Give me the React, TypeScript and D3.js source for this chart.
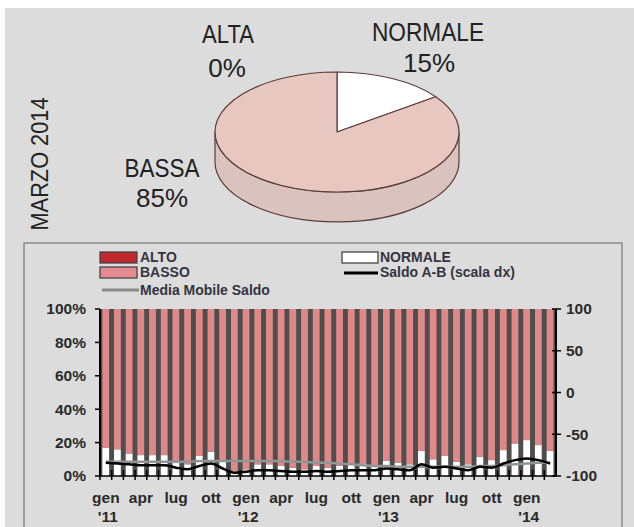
import React from "react";
import * as d3 from "d3";

const months = [
  "gen 11","feb 11","mar 11","apr 11","mag 11","giu 11","lug 11","ago 11","set 11","ott 11","nov 11","dic 11",
  "gen 12","feb 12","mar 12","apr 12","mag 12","giu 12","lug 12","ago 12","set 12","ott 12","nov 12","dic 12",
  "gen 13","feb 13","mar 13","apr 13","mag 13","giu 13","lug 13","ago 13","set 13","ott 13","nov 13","dic 13",
  "gen 14","feb 14","mar 14",
];
const normale = [
  17, 16, 13.5, 12.5, 12.5, 12.5, 9, 7, 12, 14.5, 8.5, 3,
  4, 7, 7, 6, 5, 4, 6, 5, 6, 7.5, 7.5, 6.5,
  9, 8, 7, 15, 10, 12, 8.5, 7, 11.5, 9.5, 15.5, 19.5,
  21.5, 18.5, 15,
];
const basso = [
  83, 84, 86.5, 87.5, 87.5, 87.5, 91, 93, 88, 85.5, 91.5, 97,
  96, 93, 93, 94, 95, 96, 94, 95, 94, 92.5, 92.5, 93.5,
  91, 92, 93, 85, 90, 88, 91.5, 93, 88.5, 90.5, 84.5, 80.5,
  78.5, 81.5, 85,
];
const alto = [
  0, 0, 0, 0, 0, 0, 0, 0, 0, 0, 0, 0,
  0, 0, 0, 0, 0, 0, 0, 0, 0, 0, 0, 0,
  0, 0, 0, 0, 0, 0, 0, 0, 0, 0, 0, 0,
  0, 0, 0,
];
const saldo = [
  -84, -85, -86, -87, -87, -87, -90, -92, -88, -85, -91, -96,
  -95, -93, -93, -94, -95, -95, -94, -95, -94, -93, -93, -93,
  -91, -92, -93, -86, -90, -89, -91, -93, -89, -90, -85, -81,
  -79, -81, -85,
];
const mediaMobile = [
  -83, -83, -83, -83, -83, -83, -83, -83, -82, -82, -82, -82,
  -82, -82, -82, -82, -83, -83, -84, -84, -85, -86, -87, -88,
  -88, -89, -89, -89, -89, -89, -89, -89, -88, -88, -87, -86,
  -85, -84, -84,
];
const leftTicks = [0, 20, 40, 60, 80, 100];
const rightTicks = [-100, -50, 0, 50, 100];
const xTickMonths = ["gen 11","apr 11","lug 11","ott 11","gen 12","apr 12","lug 12","ott 12","gen 13","apr 13","lug 13","ott 13","gen 14"];
const xTickText = ["gen","apr","lug","ott","gen","apr","lug","ott","gen","apr","lug","ott","gen"];
const xTickYear = ["'11","","","","'12","","","","'13","","","","'14"];

const pieLabels = ["ALTA", "NORMALE", "BASSA"];
const pieValues = [0, 15, 85];

const FONT = "'Liberation Sans', Arial, Helvetica, sans-serif";

export default function App() {
  // ---------- pie ----------
  const cx = 337, cy = 132, rx = 122, ry = 60, depth = 30;
  const arcs = d3.pie<number>().sort(null).startAngle(0).endAngle(2 * Math.PI)(pieValues);
  const pt = (a: number) => [cx + rx * Math.sin(a), cy - ry * Math.cos(a)];
  const slicePath = (a0: number, a1: number) => {
    const [x0, y0] = pt(a0);
    const [x1, y1] = pt(a1);
    const large = a1 - a0 > Math.PI ? 1 : 0;
    return `M${cx},${cy}L${x0},${y0}A${rx},${ry} 0 ${large} 1 ${x1},${y1}Z`;
  };
  const sidePath = `M${cx - rx},${cy}L${cx - rx},${cy + depth}A${rx},${ry} 0 0 0 ${cx + rx},${cy + depth}L${cx + rx},${cy}A${rx},${ry} 0 0 1 ${cx - rx},${cy}Z`;
  const pieColors: Record<string, string> = { ALTA: "#c0272d", NORMALE: "#ffffff", BASSA: "#e9c7c1" };

  // ---------- bars ----------
  const x = d3.scaleBand<string>().domain(months).range([100, 556]).paddingInner(0).paddingOuter(0);
  const yL = d3.scaleLinear().domain([0, 100]).range([476, 309]);
  const yR = d3.scaleLinear().domain([-100, 100]).range([476, 309]);
  const bw = x.bandwidth();
  const table = months.map((m, i) => ({ m, normale: normale[i], basso: basso[i], alto: alto[i] }));
  const stack = d3.stack<any>().keys(["normale", "basso", "alto"])(table);
  const barColors: Record<string, string> = { normale: "#ffffff", basso: "#e08888", alto: "#c0272d" };
  const cxm = (m: string) => (x(m) as number) + bw / 2;
  const lineGen = d3
    .line<number>()
    .x((_, i) => cxm(months[i]))
    .y((d) => yR(d))
    .curve(d3.curveMonotoneX);

  const legendFont = { fontFamily: FONT, fontSize: 14, fontWeight: "bold" as const, fill: "#34343e" };
  const axisFont = { fontFamily: FONT, fontSize: 15.5, fontWeight: "bold" as const, fill: "#2a2a2a" };

  return (
    <svg width={634} height={527} style={{ position: "absolute", left: 0, top: 0 }}>
      <rect x={0} y={0} width={634} height={527} fill="#ffffff" />
      <rect x={5} y={8} width={629} height={519} fill="#dcdcdc" />

      {/* pie */}
      <path d={sidePath} fill="#dac3bf" stroke="#5a3c38" strokeWidth={1.2} />
      {arcs.map((a, i) =>
        a.endAngle - a.startAngle > 1e-6 ? (
          <path key={i} d={slicePath(a.startAngle, a.endAngle)} fill={pieColors[pieLabels[i]]} stroke="#5a3c38" strokeWidth={1.2} strokeLinejoin="round" />
        ) : null
      )}
      <text x={228} y={43} textAnchor="middle" fontFamily={FONT} fontSize={25} fill="#222" textLength={52} lengthAdjust="spacingAndGlyphs">{pieLabels[0]}</text>
      <text x={227} y={77} textAnchor="middle" fontFamily={FONT} fontSize={26} fill="#222">{pieValues[0]}%</text>
      <text x={428} y={41} textAnchor="middle" fontFamily={FONT} fontSize={25} fill="#222" textLength={112} lengthAdjust="spacingAndGlyphs">{pieLabels[1]}</text>
      <text x={429} y={72} textAnchor="middle" fontFamily={FONT} fontSize={26} fill="#222">{pieValues[1]}%</text>
      <text x={162} y={177} textAnchor="middle" fontFamily={FONT} fontSize={25} fill="#222" textLength={75} lengthAdjust="spacingAndGlyphs">{pieLabels[2]}</text>
      <text x={162} y={207} textAnchor="middle" fontFamily={FONT} fontSize={26} fill="#222">{pieValues[2]}%</text>
      <text transform="translate(48,164) rotate(-90)" textAnchor="middle" fontFamily={FONT} fontSize={23} fill="#222" textLength={133} lengthAdjust="spacingAndGlyphs">MARZO 2014</text>

      {/* bottom panel */}
      <rect x={24} y={243} width={598} height={300} fill="#dcdcdc" stroke="#8a8a8a" strokeWidth={1.5} />

      {/* legend */}
      <rect x={100} y={252} width={37} height={11} fill="#c0272d" stroke="#444" strokeWidth={1.3} />
      <text x={140} y={262} {...legendFont}>ALTO</text>
      <rect x={100} y={267} width={37} height={11} fill="#e58a8e" stroke="#444" strokeWidth={1.3} />
      <text x={140} y={277} {...legendFont}>BASSO</text>
      <line x1={102} x2={139} y1={290} y2={290} stroke="#8a8a8a" strokeWidth={3} />
      <text x={140} y={295} {...legendFont}>Media Mobile Saldo</text>
      <rect x={342} y={252} width={36} height={11} fill="#ffffff" stroke="#444" strokeWidth={1.3} />
      <text x={380} y={262} {...legendFont}>NORMALE</text>
      <line x1={344} x2={378} y1={273} y2={273} stroke="#000" strokeWidth={3} />
      <text x={380} y={277} {...legendFont}>Saldo A-B (scala dx)</text>

      {/* plot background (dark separators) */}
      <rect x={100} y={yL(100)} width={456} height={yL(0) - yL(100)} fill="#4e4e4e" />
      {stack.map((s) =>
        s.map((d, i) =>
          d[1] - d[0] > 0 ? (
            <rect
              key={s.key + i}
              x={(x(months[i]) as number) + bw * 0.2}
              y={yL(d[1])}
              width={bw * 0.58}
              height={yL(d[0]) - yL(d[1])}
              fill={barColors[s.key]}
            />
          ) : null
        )
      )}

      {/* lines */}
      <path d={lineGen(mediaMobile) || ""} fill="none" stroke="#8e9696" strokeWidth={2.5} />
      <path d={lineGen(saldo) || ""} fill="none" stroke="#000" strokeWidth={2.5} />

      {/* x axis */}
      <line x1={100} x2={556} y1={yL(0)} y2={yL(0)} stroke="#000" strokeWidth={1.5} />
      {months.map((m) => (
        <line key={m} x1={x(m) as number} x2={x(m) as number} y1={yL(0) - 6} y2={yL(0) + 4} stroke="#000" strokeWidth={1.5} />
      ))}
      {xTickMonths.map((m, i) => (
        <g key={m}>
          <text x={cxm(m)} y={503} textAnchor="middle" {...axisFont}>{xTickText[i]}</text>
          {xTickYear[i] ? (
            <text x={cxm(m) + 2} y={522} textAnchor="middle" {...axisFont}>{xTickYear[i]}</text>
          ) : null}
        </g>
      ))}

      {/* left axis */}
      <line x1={100} x2={100} y1={yL(100)} y2={yL(0)} stroke="#000" strokeWidth={2} />
      {leftTicks.map((t) => (
        <g key={t}>
          <line x1={95} x2={100} y1={yL(t)} y2={yL(t)} stroke="#000" strokeWidth={1.5} />
          <text x={86} y={yL(t)} dy="0.35em" textAnchor="end" {...axisFont}>{t}%</text>
        </g>
      ))}

      {/* right axis */}
      <line x1={556} x2={556} y1={yR(100)} y2={yR(-100)} stroke="#000" strokeWidth={2} />
      {rightTicks.map((t) => (
        <g key={t}>
          <line x1={552} x2={561} y1={yR(t)} y2={yR(t)} stroke="#000" strokeWidth={1.5} />
          <text x={566} y={yR(t)} dy="0.35em" textAnchor="start" {...axisFont}>{t}</text>
        </g>
      ))}
    </svg>
  );
}
